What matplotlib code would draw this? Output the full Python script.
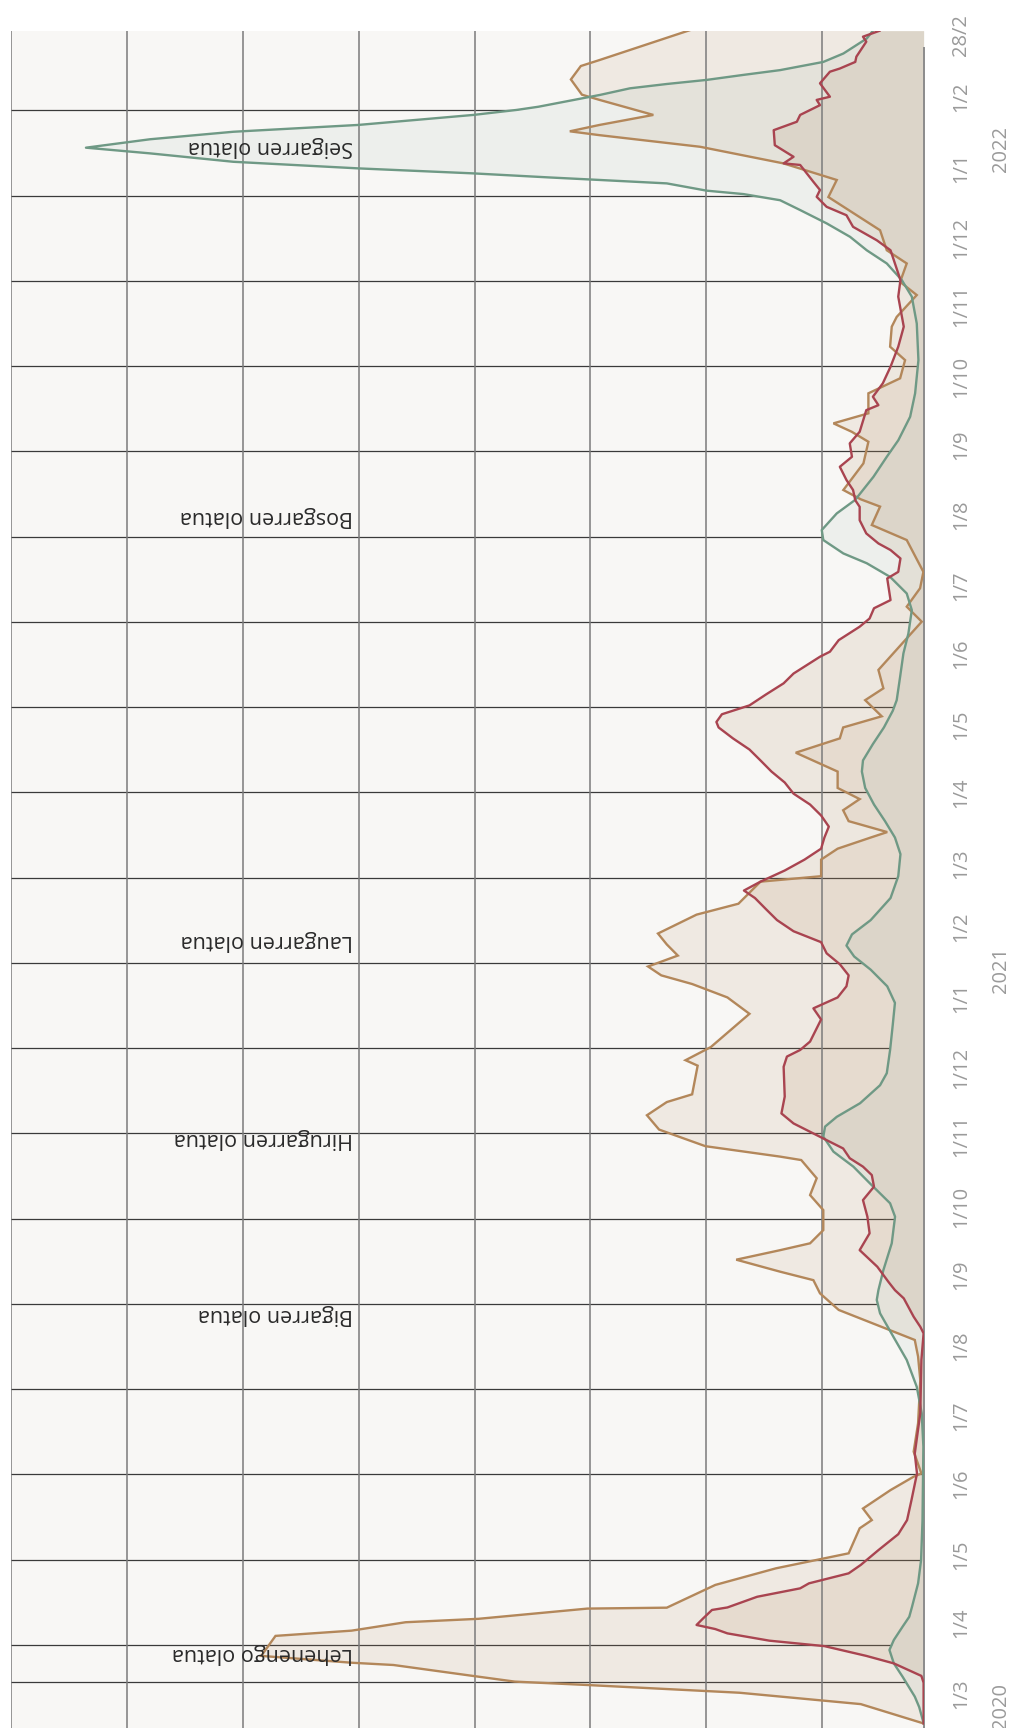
import numpy as np
import pandas as pd
import matplotlib
matplotlib.use("Agg")
import matplotlib.pyplot as plt
import matplotlib.transforms as mtransforms

plt.rcParams['font.family'] = ['Open Sans', 'DejaVu Sans']

START = pd.Timestamp("2020-03-01")   # day 0 of the time axis

# ---------------- data (days since 2020-03-01, value) ----------------
brown_day = [-13.2, -4.7, 0.3, 3.7, 5.2, 7.7, 12.5, 13.5, 16.5, 25.3,
             27.6, 31.3, 32.8, 37.3, 37.7, 47.7, 55, 61.6, 72.6, 76.2,
             81.3, 89.4, 95.3, 96.7, 106.3, 118.8, 137.7, 148.1, 155.4, 168.6,
             175.9, 181.7, 185.4, 190.7, 194.9, 197.9, 203.7, 212.5, 219.1, 226.5,
             234.5, 236, 240.6, 247.9, 254.2, 260, 263.4, 276, 278.4, 284.2,
             298.8, 306, 311.9, 315.7, 319.6, 324.4, 329.3, 334.1, 342.4, 347.2,
             356.9, 359.3, 366.6, 371.4, 376.3, 378.7, 383.5, 388.3, 393.2, 398.1,
             405.3, 413.6, 419.9, 424.7, 429.6, 436.7, 441.9, 450, 471.2, 477.8,
             485.9, 493.1, 507.1, 513.7, 521.8, 525, 529.1, 540.8, 550.3, 554.7,
             558.4, 562.8, 571.6, 578.2, 586.2, 592.1, 600.9, 605.2, 614.8, 620.6,
             628.7, 634.5, 643.3, 657.9, 665.4, 672.7, 680, 685.1, 686.8, 689.6,
             694, 700.6, 702.9, 709.6, 715.5, 718.2, 731.3]
brown_val = [0, 57, 167, 305, 371, 409, 481, 519, 601, 588,
             519, 470, 404, 305, 233, 189, 134, 68, 58, 47,
             55, 30, 9, 2, 9, 5, 3, 5, 8, 77,
             94, 100, 130, 170, 130, 103, 91, 91, 103, 97,
             111, 130, 198, 240, 251, 233, 210, 205, 216, 193,
             158, 178, 210, 238, 250, 223, 233, 241, 206, 168,
             148, 93, 93, 78, 48, 33, 68, 73, 58, 78,
             78, 116, 76, 73, 38, 53, 36.5, 41, 1.7, 15.3,
             3.2, 0.2, 15.3, 47, 39.5, 57, 72.8, 54.6, 50.1, 65.2,
             81.8, 50.1, 50.1, 21.3, 16.8, 30.4, 28.9, 24.4, 6.2, 21.3,
             15.3, 33.4, 39.5, 86.4, 78.8, 127.2, 202.8, 294, 321, 294,
             245.2, 294, 310, 320, 311, 293.6, 211.9]

red_day = [-13.2, 4.7, 7.7, 13.2, 16.5, 20.8, 23.2, 26.4, 28.3, 30.1,
           33, 36.7, 37.8, 42.5, 46.2, 48.4, 52.8, 56.5, 63, 70,
           76.2, 85, 96.7, 105.5, 123.2, 146.6, 158.3, 161.2, 165.6, 173.7,
           177.3, 181, 187.6, 194.9, 202.3, 209.6, 216.9, 222.8, 227.9, 231.6,
           235.3, 239.6, 244, 247.7, 250.6, 255, 262.4, 275.5, 280, 282.9,
           286.6, 291.5, 296.3, 301.2, 306, 310.9, 315.7, 320.6, 325.4, 330.3,
           335.1, 340, 344.8, 349.7, 353, 356.9, 361.8, 366.6, 371.4, 376.3,
           381.1, 386, 390.8, 395.6, 400.5, 405.3, 410.2, 415, 419.9, 424.7,
           427.1, 430.5, 434.4, 439.2, 444.1, 448.4, 455.8, 458, 463.1, 469,
           472.6, 477.1, 480.7, 490.2, 493.1, 499, 502.7, 505.6, 510, 515.8,
           521.7, 524.6, 529.1, 533.5, 539.3, 543.7, 549.6, 554.7, 564.2, 566.4,
           570.1, 576, 583.3, 592.1, 600.9, 614.1, 621.4, 628.7, 634.5, 638.9,
           644.8, 649.9, 653.6, 658, 661, 664.6, 672, 672.7, 675.6, 680.7,
           687.3, 691, 694, 698.3, 700.6, 702, 707.9, 713, 714.4, 717.3,
           719.6, 726.2, 728.4, 731]
red_val = [0, 0, 2, 27, 52, 90, 140, 178, 189, 206,
           200, 192, 178, 151, 112, 104, 68, 57, 41, 23,
           15, 11, 6, 8, 3, 2, 0, 3, 9, 18,
           26, 32, 42, 58, 49, 51, 55, 45, 47, 55,
           67, 73, 91, 106, 118, 129, 126, 127, 124, 112,
           103, 98, 93, 100, 78, 70, 68, 76, 88, 93,
           118, 133, 143, 153, 163, 148, 126, 108, 93, 90,
           86, 93, 103, 118, 126, 138, 148, 158, 173, 186,
           188, 183, 158, 143, 127, 118, 94, 85, 77, 58,
           49, 45, 30, 33, 23, 21, 30, 41, 52, 58,
           58, 62, 64, 70, 76, 65, 67, 58, 52, 41,
           46, 37, 30, 23, 18, 23, 21, 26, 30, 42.5,
           64, 70, 88, 97, 94, 100, 112, 127, 118, 135,
           136, 115, 112, 94, 97, 85, 94, 85, 76, 62,
           61, 52, 55, 40]

green_day = [-13, -6, -1.4, 7.3, 13.2, 19.1, 23.5, 29.4, 33.7, 38.1,
             48.4, 58.6, 75.9, 108.5, 123.2, 134.8, 146.6, 156.8, 167.1, 173,
             177.3, 186.1, 197.9, 209.6, 215.5, 224.2, 231.6, 238.2, 244.8, 249.2,
             253.5, 259.5, 267.4, 272.7, 282.9, 293.9, 303.6, 310.9, 318.2, 324,
             328.8, 333.7, 340, 349.7, 359.3, 369, 376.3, 383.5, 390.8, 398.1,
             405.3, 410.2, 417.4, 424.7, 432, 436.7, 447, 457.3, 466, 476.3,
             483.6, 490.9, 496.9, 501.2, 507.1, 511.5, 518.8, 524.7, 534.9, 543.7,
             551, 561.3, 571.6, 586.2, 602.3, 614.1, 621.4, 628.7, 634.5, 640.4,
             646.3, 652.2, 656.5, 659.2, 660.7, 663.9, 665.4, 666.5, 668.3, 670.5,
             673.4, 677.1, 679.6, 683.3, 686.6, 689.6, 694, 696.2, 697.6, 702.8,
             705.7, 707.6, 709.4, 711.6, 713.7, 717.3, 721, 727.6, 731]
green_val = [0, 4, 8, 19, 27, 31, 27, 19, 13, 10.5,
             5, 2.3, 1, 0.2, 1.7, 6.2, 15.3, 27.4, 39.5, 42.5,
             41, 36.5, 28.9, 25.9, 30.4, 48.6, 63.7, 81.8, 91, 89.4,
             78.8, 57.6, 39.5, 33.4, 30.4, 28, 26, 33, 48, 63,
             70, 65, 48, 30, 23, 21, 26, 35, 45, 53,
             56, 55, 46, 36, 28, 24.4, 21.3, 18.3, 13.8, 10.7,
             15.3, 30.4, 51.6, 72.8, 91, 92.4, 78.8, 62.2, 45.5, 33.4,
             22.9, 12.2, 7.7, 4.7, 6.2, 10.7, 19.8, 33.4, 51.6, 66.7,
             87.9, 112.1, 130.2, 163.5, 196.8, 233, 293.6, 339, 408.5, 512.9,
             626.3, 701.9, 760, 701.9, 626.3, 512.9, 408.5, 369.2, 349.5, 293.6,
             266.4, 233, 196.8, 163.5, 130.2, 91, 72.8, 51.6, 46]

wave_labels = ["Lehenengo olatua", "Bigarren olatua", "Hirugarren olatua",
               "Laugarren olatua", "Bosgarren olatua", "Seigarren olatua"]
wave_label_day = [17.7, 166.5, 244, 331.2, 517.6, 680]
wave_label_val = 518

month_ticks = pd.date_range("2020-03-01", "2022-02-01", freq="MS").append(
    pd.DatetimeIndex(["2022-02-28"]))
year_labels = ["2020", "2021", "2022"]
year_label_day = [-5.5, 318, 679]

# ---------------- styling ----------------
BG = "#f8f7f5"
C_BROWN = "#b3875a"
C_RED = "#a94450"
C_GREEN = "#6f9985"
TAN = "#b0885c"

fig = plt.figure(figsize=(10.15, 17.28), dpi=100)
ax = fig.add_axes([11 / 1015, 0, (923.6 - 11) / 1015, (1728 - 31) / 1728])
ax.set_facecolor(BG)
ax.set_xlim(828, 0)
ax.set_ylim(-15.2, 730.9)
for s in ax.spines.values():
    s.set_visible(False)
ax.set_xticks([])
ax.set_yticks([])

# time grid (drawn below the fills)
hgrid = list(696.0 - 37.48 * np.arange(19)) + [5.0]
for h in hgrid:
    ax.axhline(h, color="#3a3a3a", lw=0.9, zorder=1)

# mask the time grid under the green area
ax.fill_betweenx(green_day, 0, green_val, color=BG, lw=0, zorder=1.5)

ax.fill_betweenx(brown_day, 0, brown_val, color=TAN, alpha=0.12, lw=0, zorder=2)
ax.fill_betweenx(red_day, 0, red_val, color=TAN, alpha=0.14, lw=0, zorder=2.05)
ax.fill_betweenx(green_day, 0, green_val, color=C_GREEN, alpha=0.08, lw=0, zorder=2.1)

# value grid (on top of fills)
for g in 92 + 105.14 * np.arange(8):
    ax.axvline(g, color="#7b7b7b", lw=1.1, zorder=3)

# baseline axis
ax.plot([0, 0], [-15.2, 723.4], color="#8c8c8c", lw=1.4, zorder=3.5, clip_on=False)

ax.plot(brown_val, brown_day, color=C_BROWN, lw=1.7, zorder=4, solid_joinstyle="miter")
ax.plot(green_val, green_day, color=C_GREEN, lw=1.7, zorder=5)
ax.plot(red_val, red_day, color=C_RED, lw=1.7, zorder=6)

for name, d in zip(wave_labels, wave_label_day):
    ax.text(wave_label_val, d, name, rotation=180, ha="right", va="center",
            fontsize=15.5, color="#2a2a2a", zorder=7)

trans = mtransforms.blended_transform_factory(fig.transFigure, ax.transData)
for t in month_ticks:
    d = (t - START).days
    ax.text(961 / 1015, d, f"{t.day}/{t.month}", transform=trans, rotation=90,
            ha="center", va="center", fontsize=14.5, color="#9a9a9a", clip_on=False)
for y, d in zip(year_labels, year_label_day):
    ax.text(1001 / 1015, d, y, transform=trans, rotation=90,
            ha="center", va="center", fontsize=14.5, color="#9a9a9a", clip_on=False)

fig.savefig("out.png", dpi=100, facecolor="white")
